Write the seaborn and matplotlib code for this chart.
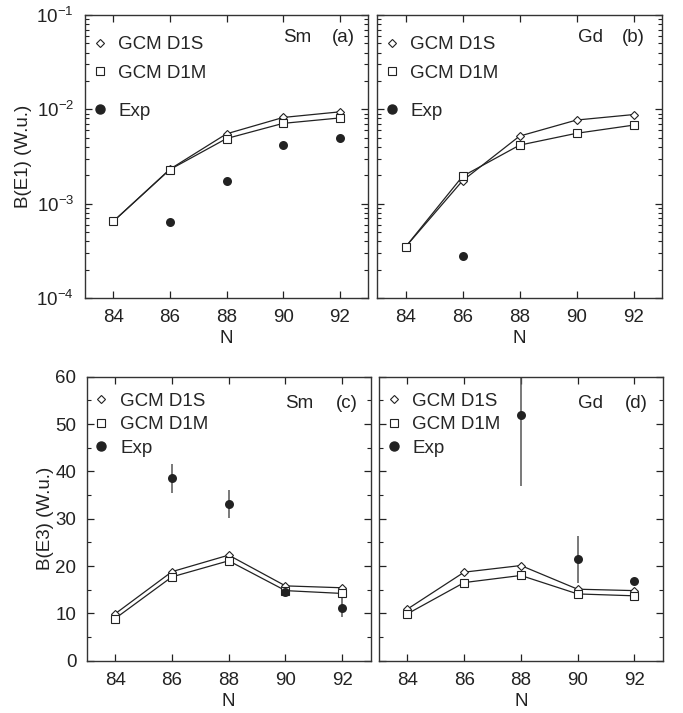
import numpy as np
import pandas as pd
import seaborn as sns
import matplotlib
matplotlib.use('Agg')
import matplotlib.pyplot as plt
from matplotlib.lines import Line2D
from matplotlib.ticker import LogLocator, MultipleLocator, NullFormatter

# Data
N = [84, 86, 88, 90, 92]

# B(E1), Sm
sm_e1_d1s = [6.5e-4, 2.32e-3, 5.5e-3, 8.2e-3, 9.4e-3]
sm_e1_d1m = [6.5e-4, 2.30e-3, 4.9e-3, 7.1e-3, 8.1e-3]
sm_e1_exp_n = [86, 88, 90, 92]
sm_e1_exp = [6.35e-4, 1.76e-3, 4.2e-3, 5.0e-3]

# B(E1), Gd
gd_e1_d1s = [3.48e-4, 1.75e-3, 5.2e-3, 7.7e-3, 8.8e-3]
gd_e1_d1m = [3.48e-4, 1.95e-3, 4.17e-3, 5.57e-3, 6.8e-3]
gd_e1_exp_n = [86]
gd_e1_exp = [2.82e-4]

# B(E3), Sm
sm_e3_d1s = [9.9, 18.8, 22.3, 15.8, 15.4]
sm_e3_d1m = [8.9, 17.7, 21.1, 14.8, 14.2]
sm_e3_exp_n = [86, 88, 90, 92]
sm_e3_exp = [38.5, 33.1, 14.6, 11.2]
sm_e3_err = [3.0, 3.0, 0.5, 2.0]

# B(E3), Gd
gd_e3_d1s = [10.9, 18.7, 20.1, 15.1, 14.8]
gd_e3_d1m = [9.9, 16.5, 18.0, 14.1, 13.7]
gd_e3_exp_n = [88, 90, 92]
gd_e3_exp = [52.0, 21.4, 16.9]
gd_e3_err = [15.0, 5.0, 0.5]

sns.set_style('ticks')
plt.rcParams['font.family'] = ['Liberation Sans', 'DejaVu Sans']
plt.rcParams['mathtext.fontset'] = 'custom'
plt.rcParams['mathtext.rm'] = 'Liberation Sans'
plt.rcParams['font.size'] = 13.5

ink = '#222222'
fig = plt.figure(figsize=(6.83, 7.13), dpi=100)
axa = fig.add_axes([0.1245, 0.582, 0.4143, 0.397])
axb = fig.add_axes([0.552, 0.582, 0.4173, 0.397])
axc = fig.add_axes([0.127, 0.0734, 0.4157, 0.3983])
axd = fig.add_axes([0.555, 0.0734, 0.4153, 0.3983])

line_kw = dict(color=ink, linewidth=0.9, markerfacecolor='white', markeredgecolor=ink, markeredgewidth=0.8)


def draw(ax, d1s, d1m, exp_n, exp, err=None):
    df = pd.DataFrame({'N': N, 'd1s': d1s, 'd1m': d1m})
    sns.lineplot(data=df, x='N', y='d1s', ax=ax, marker='D', markersize=4, **line_kw)
    sns.lineplot(data=df, x='N', y='d1m', ax=ax, marker='s', markersize=6, **line_kw)
    if err is not None:
        ax.errorbar(exp_n, exp, yerr=err, fmt='none', ecolor='#555555', elinewidth=1.1, capsize=0)
    dfe = pd.DataFrame({'N': exp_n, 'exp': exp})
    sns.scatterplot(data=dfe, x='N', y='exp', ax=ax, marker='o', s=42, color=ink, edgecolor=ink, linewidth=0, zorder=3)
    ax.set_xlim(83, 93)
    ax.set_xticks(N)
    ax.set_xlabel('N', color=ink, labelpad=3)
    ax.set_ylabel('')
    ax.tick_params(which='both', direction='in', top=True, right=True, colors=ink, labelcolor=ink)
    ax.tick_params(which='major', length=5, width=0.9)
    ax.tick_params(which='minor', length=3, width=0.8)
    ax.tick_params(axis='x', which='major', pad=8)
    for s in ax.spines.values():
        s.set_color('#333333')
        s.set_linewidth(1.0)


def handles():
    h1 = Line2D([], [], linestyle='none', marker='D', markersize=4, markerfacecolor='white',
                markeredgecolor=ink, markeredgewidth=0.8)
    h2 = Line2D([], [], linestyle='none', marker='s', markersize=6, markerfacecolor='white',
                markeredgecolor=ink, markeredgewidth=0.8)
    h3 = Line2D([], [], linestyle='none', marker='o', markersize=6.5, color=ink)
    return h1, h2, h3


leg_kw = dict(frameon=False, handlelength=0.8, handletextpad=0.6, borderaxespad=0, borderpad=0, fontsize=13.5)

draw(axa, sm_e1_d1s, sm_e1_d1m, sm_e1_exp_n, sm_e1_exp)
draw(axb, gd_e1_d1s, gd_e1_d1m, gd_e1_exp_n, gd_e1_exp)
draw(axc, sm_e3_d1s, sm_e3_d1m, sm_e3_exp_n, sm_e3_exp, sm_e3_err)
draw(axd, gd_e3_d1s, gd_e3_d1m, gd_e3_exp_n, gd_e3_exp, gd_e3_err)

for ax in (axa, axb):
    ax.set_yscale('log')
    ax.set_ylim(1e-4, 1e-1)
    ax.yaxis.set_major_locator(LogLocator(base=10, numticks=10))
    ax.yaxis.set_minor_locator(LogLocator(base=10, subs=np.arange(2, 10), numticks=10))
    ax.yaxis.set_minor_formatter(NullFormatter())
    ax.tick_params(axis='y', which='major', pad=8)
    h1, h2, h3 = handles()
    l1 = ax.legend([h1, h2], ['GCM D1S', 'GCM D1M'], loc='upper left',
                   bbox_to_anchor=(0.025, 0.925), labelspacing=0.6, **leg_kw)
    ax.add_artist(l1)
    ax.legend([h3], ['Exp'], loc='upper left', bbox_to_anchor=(0.025, 0.69), **leg_kw)

for ax in (axc, axd):
    ax.set_ylim(0, 60)
    ax.yaxis.set_major_locator(MultipleLocator(10))
    ax.yaxis.set_minor_locator(MultipleLocator(5))
    ax.tick_params(axis='y', which='major', pad=7.5)
    h1, h2, h3 = handles()
    ax.legend([h1, h2, h3], ['GCM D1S', 'GCM D1M', 'Exp'], loc='upper left',
              bbox_to_anchor=(0.025, 0.943), labelspacing=0.33, **leg_kw)

axb.set_yticklabels([])
axd.set_yticklabels([])
axa.set_ylabel('B(E1) (W.u.)', color=ink, labelpad=3)
axc.set_ylabel('B(E3) (W.u.)', color=ink, labelpad=1)

for ax, elem, tag, xs, xt, y in [(axa, 'Sm', '(a)', 0.70, 0.954, 0.92),
                                 (axb, 'Gd', '(b)', 0.705, 0.94, 0.92),
                                 (axc, 'Sm', '(c)', 0.70, 0.954, 0.907),
                                 (axd, 'Gd', '(d)', 0.70, 0.948, 0.907)]:
    ax.text(xs, y, elem, transform=ax.transAxes, ha='left', va='center', color=ink, fontsize=13.5)
    ax.text(xt, y, tag, transform=ax.transAxes, ha='right', va='center', color=ink, fontsize=13.5)

fig.savefig('out.png', dpi=100)
